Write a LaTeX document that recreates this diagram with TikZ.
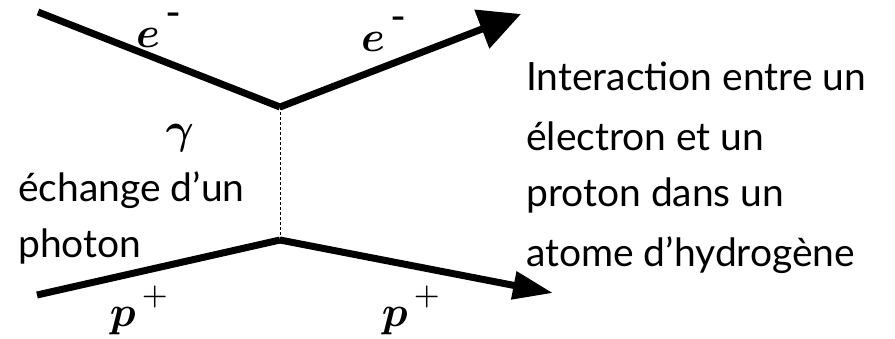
\documentclass[tikz,border=0pt]{standalone}
\usepackage{fontspec}
\setmainfont{Lato}
\usepackage{amsmath,bm,graphicx}
\usetikzlibrary{arrows.meta}
\newcommand{\bigsym}[1]{\scalebox{4.3}{$#1$}}
\begin{document}
\begin{tikzpicture}[x=1pt,y=-1pt,
  particle/.style={line width=7pt},
  photonline/.style={line width=0.8pt,dashed,dash pattern=on 3pt off 2pt},
  txt/.style={font=\fontsize{39}{60}\selectfont,anchor=west,inner sep=0pt},
  sym/.style={inner sep=0pt}]
\useasboundingbox (0,0) rectangle (895,338);
\coordinate (ein) at (38,12);
\coordinate (v1) at (280,107);
\coordinate (eout) at (521,14);
\coordinate (pin) at (37,295);
\coordinate (v2) at (280,240);
\coordinate (pout) at (553,293);
\draw[particle] (ein) -- (v1);
\draw[particle,-{Triangle[length=42pt,width=40pt]}] (v1) -- (eout);
\draw[particle] (pin) -- (v2);
\draw[particle,-{Triangle[length=40pt,width=27pt]}] (v2) -- (pout);
\draw[photonline] (v1) -- (v2);
\node[sym] (l1) at (160,30) {\bigsym{\bm{e}^{\,\raisebox{1pt}{\text{-}}}}};
\node[sym] (l2) at (385,34) {\bigsym{\bm{e}^{\,\raisebox{1pt}{\text{-}}}}};
\node[sym] (lg) at (180,138) {\bigsym{\bm{\gamma}}};
\node[sym] (l3) at (140,310) {\bigsym{\bm{p}^{\,\raisebox{1.5pt}{$\scriptstyle+$}}}};
\node[sym] (l4) at (412,310) {\bigsym{\bm{p}^{\,\raisebox{1.5pt}{$\scriptstyle+$}}}};
\node[txt] (t1) at (18,190) {échange d’un};
\node[txt] (t2) at (18,246) {photon};
\node[txt] (r1) at (526,76) {Interaction entre un};
\node[txt] (r2) at (526,136) {électron et un};
\node[txt] (r3) at (526,195) {proton dans un};
\node[txt] (r4) at (526,255) {atome d’hydrogène};
\end{tikzpicture}
\end{document}
